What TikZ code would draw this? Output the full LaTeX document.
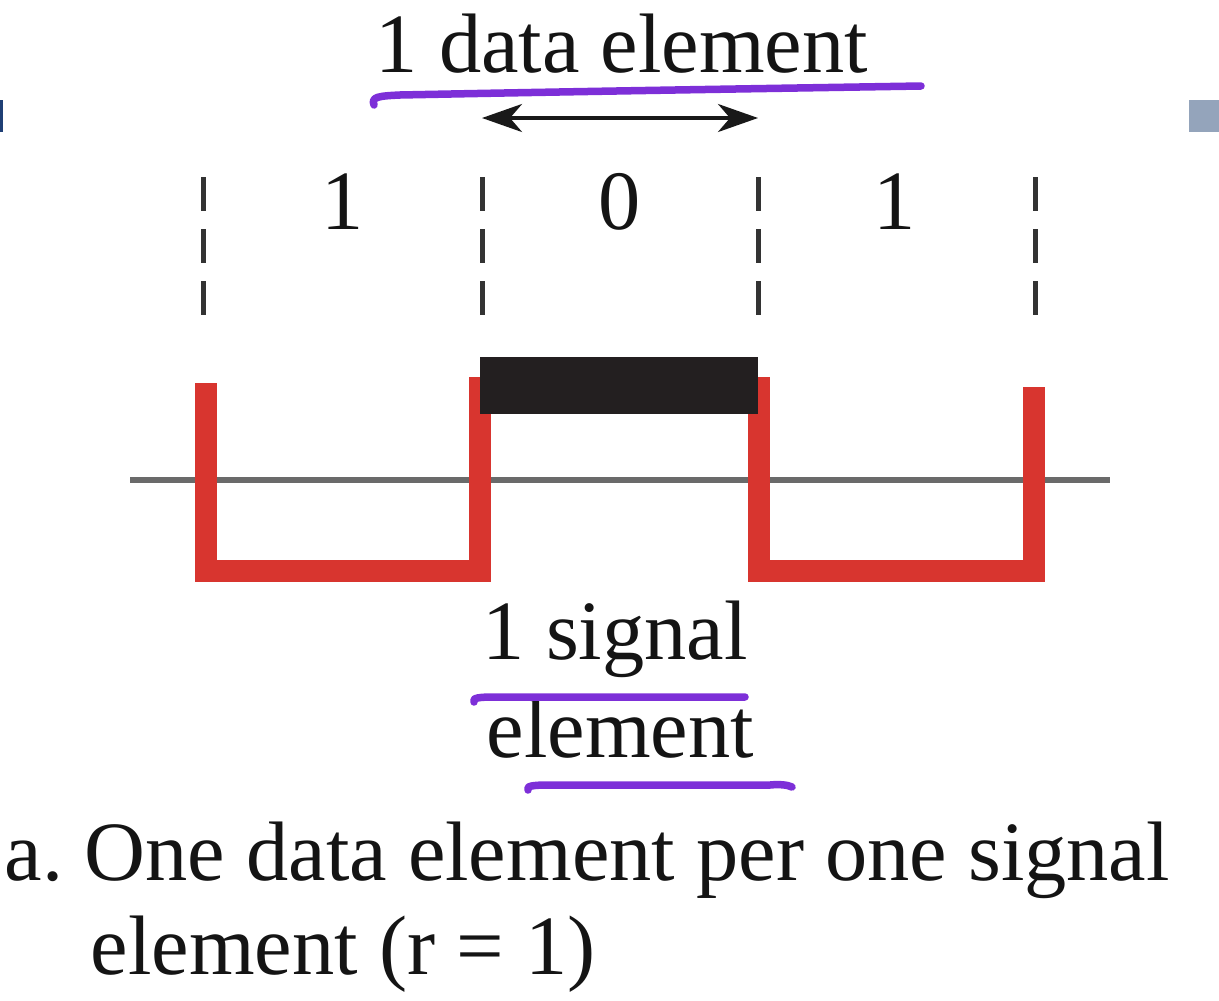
\documentclass[tikz,border=0pt]{standalone}
\usepackage{fontspec}
\setmainfont{Liberation Serif}
\usetikzlibrary{arrows.meta}
\definecolor{sigred}{HTML}{D8352F}
\definecolor{penpurple}{HTML}{7D2FD8}
\definecolor{axisgray}{HTML}{6A6A6A}
\definecolor{barblack}{HTML}{231F20}
\definecolor{edgeblue}{HTML}{1F3F75}
\definecolor{edgegray}{HTML}{94A4BB}
\tikzset{
  lbl/.style={inner sep=0pt, anchor=base west, font=\fontsize{24}{27}\selectfont, text=black!92},
  digit/.style={inner sep=0pt, anchor=base, font=\fontsize{24}{27}\selectfont, text=black!92},
  divider/.style={line width=0.05cm, black!80, dash pattern=on 0.34cm off 0.18cm},
  signal/.style={line width=0.22cm, sigred, line join=miter},
  pen/.style={line width=0.075cm, penpurple, line cap=round, line join=round},
  span/.style={line width=0.035cm, black!90, {Stealth[length=0.4cm,width=0.28cm,inset=0.12cm]}-{Stealth[length=0.4cm,width=0.28cm,inset=0.12cm]}}
}
\begin{document}
\begin{tikzpicture}[x=0.01cm,y=-0.01cm]
\useasboundingbox (0,0) rectangle (1219,1000);
% edge marks
\fill[edgeblue] (0,100) rectangle (2.5,132);
\fill[edgegray] (1189,100) rectangle (1219,132);
% dashed dividers
\foreach \n/\x in {d1/203,d2/482,d3/758,d4/1035}{
  \coordinate (\n t) at (\x,177);
  \coordinate (\n b) at (\x,318);
  \draw[divider] (\n t) -- (\n b);
}
% bit labels
\node[digit] (b1) at (343,229) {1};
\node[digit] (b2) at (620,229) {0};
\node[digit] (b3) at (895,229) {1};
% axis
\coordinate (axL) at (130,480);
\coordinate (axR) at (1110,480);
\draw[line width=0.06cm, axisgray] (axL) -- (axR);
% signal
\draw[signal] (206,383) -- (206,571) -- (480,571) -- (480,377);
\draw[signal] (759,377) -- (759,571) -- (1034,571) -- (1034,387);
% black bar
\fill[barblack] (480,357) rectangle (758,414);
% data element arrow
\coordinate (aL) at (482,118);
\coordinate (aR) at (758,118);
\draw[span] (aL) -- (aR);
% texts
\node[lbl] (de) at (375,72) {1 data element};
\node[lbl] (s1) at (482,659) {1 signal};
\node[lbl] (s2) at (486,757) {element};
\node[lbl] (c1) at (4,880) {a.\hspace{-0.08em} One data element per one signal};
\node[lbl] (c2) at (90,974) {element (r = 1)};
% purple pen strokes
\draw[pen] (374,105) .. controls (371,97) and (378,96) .. (400,95) .. controls (600,91) and (800,88) .. (921,86);
\draw[pen] (474,702) .. controls (472,698) and (478,697) .. (495,697) -- (745,697);
\draw[pen] (528,790) .. controls (526,786) and (532,785) .. (550,785) -- (770,785) .. controls (780,784) and (788,785) .. (792,787);
\end{tikzpicture}
\end{document}
